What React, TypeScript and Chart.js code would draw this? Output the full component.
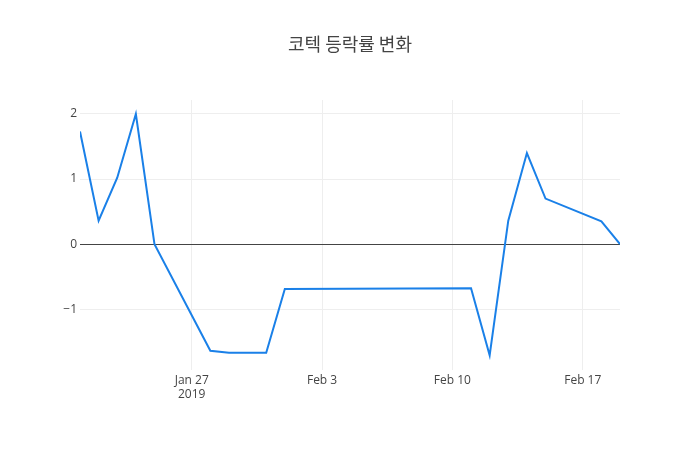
import React, { useEffect, useRef } from "react";
import { Chart, registerables } from "chart.js";

Chart.register(...registerables);

const titleText = "코텍 등락률 변화";

const dates = [
  "2019-01-21", "2019-01-22", "2019-01-23", "2019-01-24", "2019-01-25",
  "2019-01-28", "2019-01-29", "2019-01-31", "2019-02-01", "2019-02-11",
  "2019-02-12", "2019-02-13", "2019-02-14", "2019-02-15", "2019-02-18",
  "2019-02-19",
];
const changes = [
  1.73, 0.36, 1.02, 2.0, 0.0,
  -1.64, -1.67, -1.67, -0.69, -0.68,
  -1.71, 0.36, 1.4, 0.7, 0.35,
  0.0,
];

const xTickDates = ["2019-01-27", "2019-02-03", "2019-02-10", "2019-02-17"];
const xTickLabels: (string | string[])[] = [["Jan 27", "2019"], "Feb 3", "Feb 10", "Feb 17"];
const yTickValues = [-1, 0, 1, 2];
const yTickLabels = ["\u22121", "0", "1", "2"];

const toMs = (d: string) => Date.parse(d + "T00:00:00Z");

export default function App() {
  const ref = useRef<HTMLCanvasElement | null>(null);

  useEffect(() => {
    if (!ref.current) return;
    const xTickMs = xTickDates.map(toMs);
    const chart = new Chart(ref.current, {
      type: "line",
      data: {
        datasets: [
          {
            data: dates.map((d, i) => ({ x: toMs(d), y: changes[i] })),
            borderColor: "#1a80e8",
            borderWidth: 2,
            pointRadius: 0,
            tension: 0,
            fill: false,
            yAxisID: "y",
          },
        ],
      },
      options: {
        animation: false,
        responsive: false,
        layout: { padding: 0 },
        plugins: {
          legend: { display: false },
          tooltip: { enabled: false },
          title: {
            display: true,
            text: titleText,
            color: "#444",
            font: { family: "'Noto Sans CJK KR', 'Open Sans', sans-serif", size: 18, weight: "normal", lineHeight: 1.2 },
            padding: { top: 33, bottom: 45.4 },
          },
        },
        scales: {
          x: {
            type: "linear",
            min: toMs(dates[0]),
            max: toMs(dates[dates.length - 1]),
            afterBuildTicks: (s: any) => {
              s.ticks = xTickMs.map((v) => ({ value: v }));
            },
            afterFit: (s: any) => {
              s.height = 80;
            },
            ticks: {
              autoSkip: false,
              maxRotation: 0,
              padding: 3,
              color: "#444",
              font: { family: "'Open Sans', sans-serif", size: 12 },
              callback: (v: any) => {
                const idx = xTickMs.indexOf(Number(v));
                return idx >= 0 ? xTickLabels[idx] : "";
              },
            },
            grid: { color: "#eeeeee", lineWidth: 1, drawTicks: false },
            border: { display: false },
          },
          y: {
            type: "linear",
            position: "left",
            min: -1.935,
            max: 2.215,
            afterBuildTicks: (s: any) => {
              s.ticks = yTickValues.map((v) => ({ value: v }));
            },
            afterFit: (s: any) => {
              s.width = 80;
            },
            ticks: {
              padding: 3,
              color: "#444",
              font: { family: "'Open Sans', sans-serif", size: 12 },
              callback: (v: any) => {
                const idx = yTickValues.indexOf(Number(v));
                return idx >= 0 ? yTickLabels[idx] : "";
              },
            },
            grid: {
              color: (ctx: any) => (ctx.tick && ctx.tick.value === 0 ? "#444444" : "#eeeeee"),
              lineWidth: 1,
              drawTicks: false,
            },
            border: { display: false },
          },
          yRight: {
            type: "linear",
            position: "right",
            min: 0,
            max: 1,
            afterFit: (s: any) => {
              s.width = 80;
            },
            ticks: { display: false },
            grid: { display: false, drawTicks: false },
            border: { display: false },
          },
        },
      },
    });
    return () => chart.destroy();
  }, []);

  return (
    <div style={{ position: "absolute", left: 0, top: 0, width: 700, height: 450, background: "#fff" }}>
      <canvas ref={ref} width={700} height={450} style={{ width: 700, height: 450 }} />
    </div>
  );
}
